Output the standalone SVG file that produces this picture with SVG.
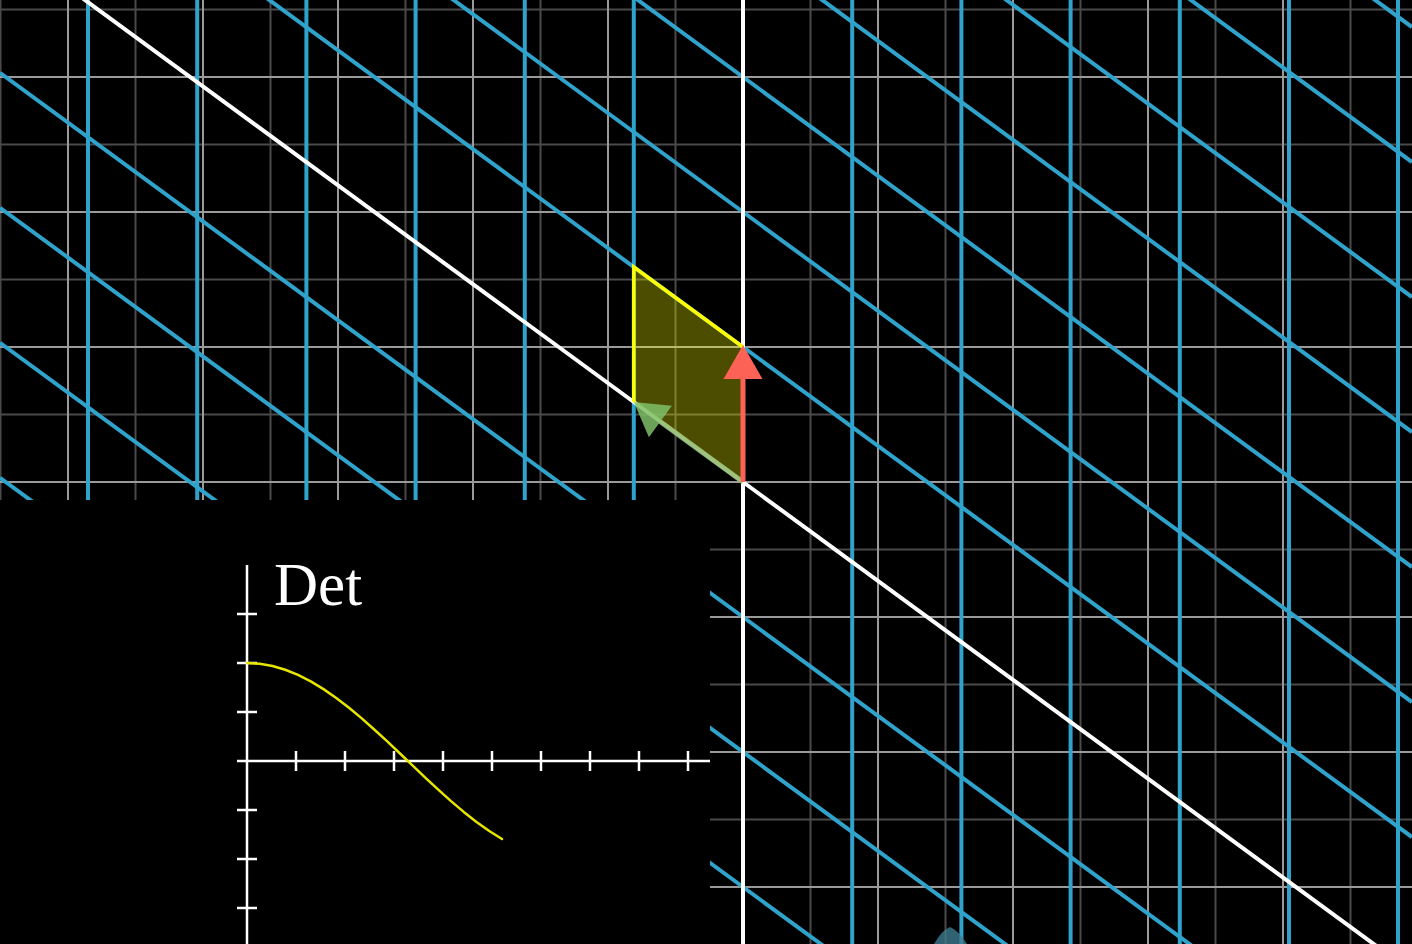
<svg xmlns="http://www.w3.org/2000/svg" width="1412" height="944" viewBox="0 0 1412 944">
<style>
.maj{stroke:#9a9a9a;stroke-width:2}
.min{stroke:#4a4a4a;stroke-width:2}
.blue{stroke:#2fa3cc;stroke-width:4;fill:none}
.wht{stroke:#ffffff;stroke-width:4;fill:none}
.ax{stroke:#ffffff;stroke-width:2.5;fill:none}
</style>
<rect x="0" y="0" width="1412" height="944" fill="#000"/>
<g id="background-grid">
<g class="min">
<line x1="0.5" y1="0" x2="0.5" y2="944"/>
<line x1="135.5" y1="0" x2="135.5" y2="944"/>
<line x1="270.5" y1="0" x2="270.5" y2="944"/>
<line x1="405.5" y1="0" x2="405.5" y2="944"/>
<line x1="540.5" y1="0" x2="540.5" y2="944"/>
<line x1="675.5" y1="0" x2="675.5" y2="944"/>
<line x1="810.5" y1="0" x2="810.5" y2="944"/>
<line x1="945.5" y1="0" x2="945.5" y2="944"/>
<line x1="1080.5" y1="0" x2="1080.5" y2="944"/>
<line x1="1215.5" y1="0" x2="1215.5" y2="944"/>
<line x1="1350.5" y1="0" x2="1350.5" y2="944"/>
<line x1="0" y1="9.5" x2="1412" y2="9.5"/>
<line x1="0" y1="144.5" x2="1412" y2="144.5"/>
<line x1="0" y1="279.5" x2="1412" y2="279.5"/>
<line x1="0" y1="414.5" x2="1412" y2="414.5"/>
<line x1="0" y1="549.5" x2="1412" y2="549.5"/>
<line x1="0" y1="684.5" x2="1412" y2="684.5"/>
<line x1="0" y1="819.5" x2="1412" y2="819.5"/>
</g>
<g class="maj">
<line x1="68" y1="0" x2="68" y2="944"/>
<line x1="203" y1="0" x2="203" y2="944"/>
<line x1="338" y1="0" x2="338" y2="944"/>
<line x1="473" y1="0" x2="473" y2="944"/>
<line x1="608" y1="0" x2="608" y2="944"/>
<line x1="878" y1="0" x2="878" y2="944"/>
<line x1="1013" y1="0" x2="1013" y2="944"/>
<line x1="1148" y1="0" x2="1148" y2="944"/>
<line x1="1283" y1="0" x2="1283" y2="944"/>
<line x1="0" y1="77" x2="1412" y2="77"/>
<line x1="0" y1="212" x2="1412" y2="212"/>
<line x1="0" y1="347" x2="1412" y2="347"/>
<line x1="0" y1="482" x2="1412" y2="482"/>
<line x1="0" y1="617" x2="1412" y2="617"/>
<line x1="0" y1="752" x2="1412" y2="752"/>
<line x1="0" y1="887" x2="1412" y2="887"/>
</g>
</g>
<g id="transformed-grid" class="blue">
<line x1="88" y1="0" x2="88" y2="944"/>
<line x1="197.2" y1="0" x2="197.2" y2="944"/>
<line x1="306.4" y1="0" x2="306.4" y2="944"/>
<line x1="415.6" y1="0" x2="415.6" y2="944"/>
<line x1="524.8" y1="0" x2="524.8" y2="944"/>
<line x1="633.8" y1="0" x2="633.8" y2="944"/>
<line x1="852.2" y1="0" x2="852.2" y2="944"/>
<line x1="961.4" y1="0" x2="961.4" y2="944"/>
<line x1="1070.6" y1="0" x2="1070.6" y2="944"/>
<line x1="1179.8" y1="0" x2="1179.8" y2="944"/>
<line x1="1289" y1="0" x2="1289" y2="944"/>
<line x1="1398" y1="0" x2="1398" y2="944"/>
<line x1="0" y1="-1007.25" x2="1412" y2="27.05"/>
<line x1="0" y1="-872.25" x2="1412" y2="162.05"/>
<line x1="0" y1="-737.25" x2="1412" y2="297.05"/>
<line x1="0" y1="-602.25" x2="1412" y2="432.05"/>
<line x1="0" y1="-467.25" x2="1412" y2="567.05"/>
<line x1="0" y1="-332.25" x2="1412" y2="702.05"/>
<line x1="0" y1="-197.25" x2="1412" y2="837.05"/>
<line x1="0" y1="72.75" x2="1412" y2="1107.05"/>
<line x1="0" y1="207.75" x2="1412" y2="1242.05"/>
<line x1="0" y1="342.75" x2="1412" y2="1377.05"/>
<line x1="0" y1="477.75" x2="1412" y2="1512.05"/>
</g>
<g id="axes" class="wht">
<line x1="743" y1="0" x2="743" y2="944"/>
<line x1="0" y1="-62.25" x2="1412" y2="972.05"/>
</g>
<path id="faded-tip" d="M934,944 Q942,930 950,927 Q958,930 967,944 Z" fill="#3d7a8e" opacity="0.8"/>
<g id="area">
<polygon points="743,482 633.8,402 633.8,267 743,347" fill="#ffff00" fill-opacity="0.3" stroke="none"/>
<polyline points="633.8,402 633.8,267 743,347" fill="none" stroke="#ffff00" stroke-width="3.5"/>
</g>
<g id="vector-i" opacity="0.85">
<line x1="743" y1="482" x2="658" y2="420" stroke="#8fb870" stroke-width="5"/>
<polygon points="633.8,402 671.9,405.8 648.9,437.2" fill="#7fbf68"/>
</g>
<g id="vector-j">
<line x1="743" y1="482" x2="743" y2="378" stroke="#fc6255" stroke-width="5"/>
<polygon points="743,345 762.5,379 723.5,379" fill="#fc6255"/>
</g>
<g id="det-graph">
<rect x="0" y="500" width="710" height="444" fill="#000"/>
<g class="ax">
<line x1="247" y1="565" x2="247" y2="944"/>
<line x1="237" y1="761" x2="710" y2="761"/>
<path d="M237,614H257M237,663H257M237,712H257M237,810H257M237,859H257M237,908H257"/>
<path d="M296,751V771M345,751V771M394,751V771M443,751V771M492,751V771M541,751V771M590,751V771M639,751V771M688,751V771"/>
</g>
<text x="274" y="605" font-family="'Liberation Serif', serif" font-size="61" fill="#fff">Det</text>
<polyline fill="none" stroke="#e6e600" stroke-width="2.5" stroke-linecap="round" stroke-linejoin="round" points="247,663 259.75,663.76 272.5,666 285.25,669.76 298,674.9 310.75,681.39 323.5,689.1 336.25,697.93 349,707.7 361.75,718.37 374.5,729.7 387.25,741.44 400,753.5 412.75,765.71 425.5,777.8 438.25,789.69 451,801.1 463.75,811.91 476.5,821.9 489.25,830.95 502,839"/>
</g>
</svg>
